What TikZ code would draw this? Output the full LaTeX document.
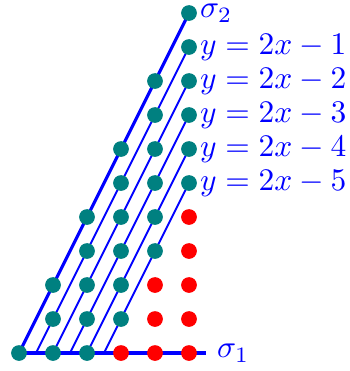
\documentclass[tikz,border=0pt]{standalone}
\usepackage{amsmath,amssymb}
\usepackage{xcolor}
\usepackage{tikz}
\usetikzlibrary{backgrounds}
\definecolor{okteal}{HTML}{008080}
\tikzset{
  latnode/.style={circle,minimum size=5pt,inner sep=0pt},
  tealnode/.style={latnode,fill=okteal},
  rednode/.style={latnode,fill=red},
  axisedge/.style={blue,line width=1pt},
  lvledge/.style={blue,semithick},
  lvllabel/.style={blue,anchor=west,inner ysep=0.5pt},
}

\begin{document}
\begin{tikzpicture}[x=0.38cm,y=0.38cm]
  \useasboundingbox (-0.559,-0.529) rectangle (9.735,10.383);
  \node[tealnode] (n00) at (0,0) {};
  \node[tealnode] (n10) at (1,0) {};
  \node[tealnode] (n11) at (1,1) {};
  \node[tealnode] (n12) at (1,2) {};
  \node[tealnode] (n20) at (2,0) {};
  \node[tealnode] (n21) at (2,1) {};
  \node[tealnode] (n22) at (2,2) {};
  \node[tealnode] (n23) at (2,3) {};
  \node[tealnode] (n24) at (2,4) {};
  \node[tealnode] (n31) at (3,1) {};
  \node[tealnode] (n32) at (3,2) {};
  \node[tealnode] (n33) at (3,3) {};
  \node[tealnode] (n34) at (3,4) {};
  \node[tealnode] (n35) at (3,5) {};
  \node[tealnode] (n36) at (3,6) {};
  \node[tealnode] (n43) at (4,3) {};
  \node[tealnode] (n44) at (4,4) {};
  \node[tealnode] (n45) at (4,5) {};
  \node[tealnode] (n46) at (4,6) {};
  \node[tealnode] (n47) at (4,7) {};
  \node[tealnode] (n48) at (4,8) {};
  \node[tealnode] (n55) at (5,5) {};
  \node[tealnode] (n56) at (5,6) {};
  \node[tealnode] (n57) at (5,7) {};
  \node[tealnode] (n58) at (5,8) {};
  \node[tealnode] (n59) at (5,9) {};
  \node[tealnode] (n510) at (5,10) {};
  \node[rednode] (n30) at (3,0) {};
  \node[rednode] (n40) at (4,0) {};
  \node[rednode] (n41) at (4,1) {};
  \node[rednode] (n42) at (4,2) {};
  \node[rednode] (n50) at (5,0) {};
  \node[rednode] (n51) at (5,1) {};
  \node[rednode] (n52) at (5,2) {};
  \node[rednode] (n53) at (5,3) {};
  \node[rednode] (n54) at (5,4) {};
  \coordinate (nB1) at (0.5,0);
  \coordinate (nB3) at (1.5,0);
  \coordinate (nB5) at (2.5,0);
  \coordinate (nS1) at (5.5,0);
  \begin{scope}[on background layer]
    \draw[axisedge] (n00.center) -- (nS1);
    \draw[axisedge] (n00.center) -- (n510.center);
    \draw[lvledge] (nB1) -- (n59.center);
    \draw[lvledge] (n10.center) -- (n58.center);
    \draw[lvledge] (nB3) -- (n57.center);
    \draw[lvledge] (n20.center) -- (n56.center);
    \draw[lvledge] (nB5) -- (n55.center);
  \end{scope}
  \node[lvllabel] (nSig1) at (nS1) {$\sigma_1$};
  \node[lvllabel] (nSig2) at (n510) {$\sigma_2$};
  \node[lvllabel] (nL1) at (n59) {$y=2x-1$};
  \node[lvllabel] (nL2) at (n58) {$y=2x-2$};
  \node[lvllabel] (nL3) at (n57) {$y=2x-3$};
  \node[lvllabel] (nL4) at (n56) {$y=2x-4$};
  \node[lvllabel] (nL5) at (n55) {$y=2x-5$};
\end{tikzpicture}
\end{document}
